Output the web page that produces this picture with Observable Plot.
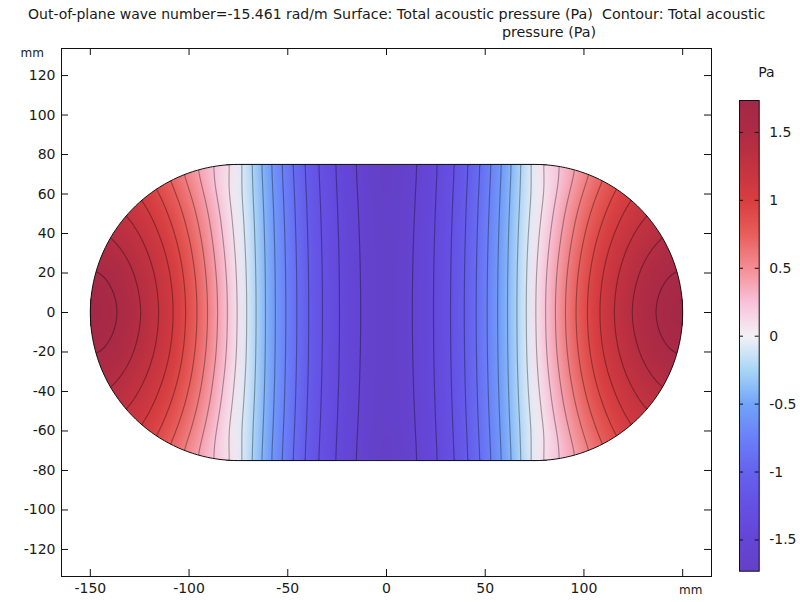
<!DOCTYPE html>
<html><head><meta charset="utf-8">
<script src="https://cdn.jsdelivr.net/npm/d3@7"></script>
<script src="https://cdn.jsdelivr.net/npm/@observablehq/plot@0.6"></script>
<style>
html,body{margin:0;padding:0;background:#fff;}
#wrap{position:relative;width:800px;height:602px;overflow:hidden;font-family:"DejaVu Sans",sans-serif;color:#1a1a1a;}
#wrap svg{position:absolute;left:0;top:0;}
.t{position:absolute;font-size:14px;white-space:nowrap;line-height:18px;z-index:2;}
</style></head><body>
<div id="wrap">
 <div class="t" style="left:28px;top:5px;">Out-of-plane wave number=-15.461 rad/m</div>
 <div class="t" style="left:333px;top:5px;width:432px;text-align:center;font-size:14.3px;">Surface: Total acoustic pressure (Pa)&nbsp; Contour: Total acoustic<br>pressure (Pa)</div>
</div>
<script>
// ---- data (mm, Pa) ----
const xs = [-150,-140,-130,-120,-110,-100,-90,-80,-70,-60,-50,-40,-30,-20,-10,0,10,20,30,40,50,60,70,80,90,100,110,120,130,140,150];
const ys = [75,60,45,30,15,0,-15,-30,-45,-60,-75];
const p_y75  = [null,null,null,null,null,null,null,null,-0.18,-0.528,-0.832,-1.119,-1.338,-1.495,-1.657,-1.73,-1.657,-1.495,-1.338,-1.119,-0.832,-0.528,-0.18,null,null,null,null,null,null,null,null];
const p_y60  = [null,null,null,1.00,0.825,0.603,0.357,0.077,-0.143,-0.507,-0.810,-1.101,-1.324,-1.485,-1.644,-1.719,-1.644,-1.485,-1.324,-1.101,-0.810,-0.507,-0.143,0.077,0.357,0.603,0.825,1.00,null,null,null];
const p_y45  = [null,null,1.27,1.13,0.944,0.71,0.44,0.132,-0.122,-0.490,-0.792,-1.088,-1.313,-1.477,-1.633,-1.711,-1.633,-1.477,-1.313,-1.088,-0.792,-0.490,-0.122,0.132,0.44,0.71,0.944,1.13,1.27,null,null];
const p_y30  = [null,1.47,1.387,1.244,1.046,0.798,0.508,0.182,-0.107,-0.478,-0.780,-1.078,-1.305,-1.471,-1.626,-1.705,-1.626,-1.471,-1.305,-1.078,-0.780,-0.478,-0.107,0.182,0.508,0.798,1.046,1.244,1.387,1.47,null];
const p_y15  = [null,1.58,1.465,1.319,1.118,0.855,0.558,0.218,-0.098,-0.471,-0.772,-1.072,-1.301,-1.468,-1.621,-1.701,-1.621,-1.468,-1.301,-1.072,-0.772,-0.471,-0.098,0.218,0.558,0.855,1.118,1.319,1.465,1.58,null];
const p_y0   = [null,1.63,1.506,1.351,1.141,0.876,0.574,0.23,-0.095,-0.469,-0.77,-1.07,-1.299,-1.467,-1.62,-1.70,-1.62,-1.467,-1.299,-1.07,-0.77,-0.469,-0.095,0.23,0.574,0.876,1.141,1.351,1.506,1.63,null];
const p_ym15 = [null,1.58,1.465,1.319,1.118,0.855,0.558,0.218,-0.098,-0.471,-0.772,-1.072,-1.301,-1.468,-1.621,-1.701,-1.621,-1.468,-1.301,-1.072,-0.772,-0.471,-0.098,0.218,0.558,0.855,1.118,1.319,1.465,1.58,null];
const p_ym30 = [null,1.47,1.387,1.244,1.046,0.798,0.508,0.182,-0.107,-0.478,-0.780,-1.078,-1.305,-1.471,-1.626,-1.705,-1.626,-1.471,-1.305,-1.078,-0.780,-0.478,-0.107,0.182,0.508,0.798,1.046,1.244,1.387,1.47,null];
const p_ym45 = [null,null,1.27,1.13,0.944,0.71,0.44,0.132,-0.122,-0.490,-0.792,-1.088,-1.313,-1.477,-1.633,-1.711,-1.633,-1.477,-1.313,-1.088,-0.792,-0.490,-0.122,0.132,0.44,0.71,0.944,1.13,1.27,null,null];
const p_ym60 = [null,null,null,1.00,0.825,0.603,0.357,0.077,-0.143,-0.507,-0.810,-1.101,-1.324,-1.485,-1.644,-1.719,-1.644,-1.485,-1.324,-1.101,-0.810,-0.507,-0.143,0.077,0.357,0.603,0.825,1.00,null,null,null];
const p_ym75 = [null,null,null,null,null,null,null,null,-0.18,-0.528,-0.832,-1.119,-1.338,-1.495,-1.657,-1.73,-1.657,-1.495,-1.338,-1.119,-0.832,-0.528,-0.18,null,null,null,null,null,null,null,null];
const rows = [p_y75,p_y60,p_y45,p_y30,p_y15,p_y0,p_ym15,p_ym30,p_ym45,p_ym60,p_ym75];

// samples on the curved walls
const edgeX = [-75,-94.4,-112.5,-128,-140,-147.4,-150,-147.4,-140,-128,-112.5,-94.4,-75, 75,94.4,112.5,128,140,147.4,150,147.4,140,128,112.5,94.4,75];
const edgeY = [75,72.4,65,53,37.5,19.4,0,-19.4,-37.5,-53,-65,-72.4,-75, 75,72.4,65,53,37.5,19.4,0,-19.4,-37.5,-53,-65,-72.4,-75];
const edgeP = [0.01,0.386,0.833,1.177,1.425,1.60,1.735,1.60,1.425,1.177,0.833,0.386,0.01, 0.01,0.386,0.833,1.177,1.425,1.60,1.735,1.60,1.425,1.177,0.833,0.386,0.01];

const pMin = -1.73, pMax = 1.735, levelCount = 20;
const stopValues = [-1.73,-1.5,-1.25,-1.0,-0.75,-0.5,-0.25,0,0.25,0.5,0.75,1.0,1.25,1.5,1.735];
const stopColors = ["#6440c6","#6445d6","#6550e4","#6562ee","#6a80f8","#72a4f8","#a8d6f6","#f4f2f6","#f8c2da","#f48e94","#e85e5a","#d83e40","#c33340","#ae2b44","#a22847"];
const xTicks = [-150,-100,-50,0,50,100,150];
const xLabelTicks = [-150,-100,-50,0,50,100];
const yTicks = [-120,-100,-80,-60,-40,-20,0,20,40,60,80,100,120];
const cbTicks = [-1.5,-1,-0.5,0,0.5,1,1.5];
const halfLen = 75, radius = 75;

// ---- build ----
const samples = [];
ys.forEach((y, i) => rows[i].forEach((p, j) => { if (p != null) samples.push({x: xs[j], y, p}); }));
edgeX.forEach((x, i) => samples.push({x, y: edgeY[i], p: edgeP[i]}));
const levels = d3.range(1, levelCount + 1).map(k => pMin + (pMax - pMin) * k / (levelCount + 1));

const outline = [];
for (let a = -90; a <= 90; a += 2) outline.push({x: halfLen + radius * Math.cos(a * Math.PI / 180), y: radius * Math.sin(a * Math.PI / 180)});
for (let a = 90; a <= 270; a += 2) outline.push({x: -halfLen + radius * Math.cos(a * Math.PI / 180), y: radius * Math.sin(a * Math.PI / 180)});
outline.push(outline[0]);

const W = 800, H = 602, mL = 61, mR = 89, mT = 48, mB = 26;
const innerW = W - mL - mR, innerH = H - mT - mB;
const colorOpts = {type: "linear", domain: stopValues, range: stopColors, clamp: true};
const style = {fontFamily: '"DejaVu Sans", sans-serif', fontSize: "14px", color: "#1a1a1a", background: "transparent", overflow: "visible"};

const main = Plot.plot({
  width: W, height: H, marginLeft: mL, marginRight: mR, marginTop: mT, marginBottom: mB,
  style,
  x: {domain: [-164.6, 164.6], label: null},
  y: {domain: [-133.7, 133.7], label: null},
  color: colorOpts,
  marks: [
    Plot.raster(samples, {x: "x", y: "y", fill: "p", interpolate: "barycentric", x1: -150, x2: 150, y1: -75, y2: 75, blur: 6}),
    Plot.contour(samples, {x: "x", y: "y", value: "p", stroke: "value", fill: "none", thresholds: levels, interpolate: "barycentric", x1: -150, x2: 150, y1: -75, y2: 75, blur: 5, strokeWidth: 1.15}),
    Plot.line(outline, {x: "x", y: "y", stroke: "#111", strokeWidth: 1}),
    Plot.frame({stroke: "#111"}),
    Plot.tickX(xTicks, {x: d => d, insetTop: innerH - 7, stroke: "#111"}),
    Plot.tickX(xTicks, {x: d => d, insetBottom: innerH - 7, stroke: "#111"}),
    Plot.tickY(yTicks, {y: d => d, insetRight: innerW - 7, stroke: "#111"}),
    Plot.tickY(yTicks, {y: d => d, insetLeft: innerW - 7, stroke: "#111"}),
    Plot.axisX(xLabelTicks, {tickSize: 0, tickPadding: 7, tickFormat: d => String(d), label: null}),
    Plot.axisY(yTicks, {tickSize: 0, tickPadding: 6, tickFormat: d => String(d), label: null}),
    Plot.text(["mm"], {text: d => d, frameAnchor: "top-left", dx: -41, dy: 0, fontSize: 12}),
    Plot.text(["mm"], {text: d => d, frameAnchor: "bottom-right", dx: -9, dy: 17, fontSize: 12})
  ]
});
const wrap = document.getElementById("wrap");
wrap.appendChild(main);

// clip surface and contours to the stadium
const ns = "http://www.w3.org/2000/svg";
const linePath = main.querySelector('g[aria-label="line"] path');
if (linePath) {
  const defs = document.createElementNS(ns, "defs");
  const cp = document.createElementNS(ns, "clipPath");
  cp.setAttribute("id", "stadiumClip");
  const cpp = document.createElementNS(ns, "path");
  cpp.setAttribute("d", linePath.getAttribute("d"));
  cp.appendChild(cpp); defs.appendChild(cp);
  main.insertBefore(defs, main.firstChild);
  ["raster", "contour"].forEach(l => {
    const g = main.querySelector(`g[aria-label="${l}"]`);
    if (g) g.setAttribute("clip-path", "url(#stadiumClip)");
  });
}
main.querySelectorAll('g[aria-label="contour"] path').forEach(p => {
  const s = p.getAttribute("stroke");
  if (s && s !== "none") { const c = d3.color(s); if (c) p.setAttribute("stroke", c.darker(1.15).formatHex()); }
});

// colour bar
const cbW = 100, cbH = 552, cbL = 39, cbR = 41.3, cbT = 50, cbB = 31.3;
const cbInnerW = cbW - cbL - cbR;
const cb = Plot.plot({
  width: cbW, height: cbH, marginLeft: cbL, marginRight: cbR, marginTop: cbT, marginBottom: cbB,
  style,
  x: {domain: [0, 1], axis: null},
  y: {domain: [pMin, pMax], label: null},
  color: colorOpts,
  marks: [
    Plot.raster({fill: (x, y) => y, x1: 0, x2: 1, y1: pMin, y2: pMax}),
    Plot.frame({stroke: "#111"}),
    Plot.tickY(cbTicks, {y: d => d, insetRight: cbInnerW - 4, stroke: "#111"}),
    Plot.tickY(cbTicks, {y: d => d, insetLeft: cbInnerW - 4, stroke: "#111"}),
    Plot.axisY(cbTicks, {anchor: "right", tickSize: 0, tickPadding: 10, tickFormat: d => String(d), label: null}),
    Plot.text(["Pa"], {text: d => d, frameAnchor: "top", dx: 17, dy: -33})
  ]
});
cb.style.left = "700px"; cb.style.top = "50px";
wrap.appendChild(cb);
</script>
</body></html>
